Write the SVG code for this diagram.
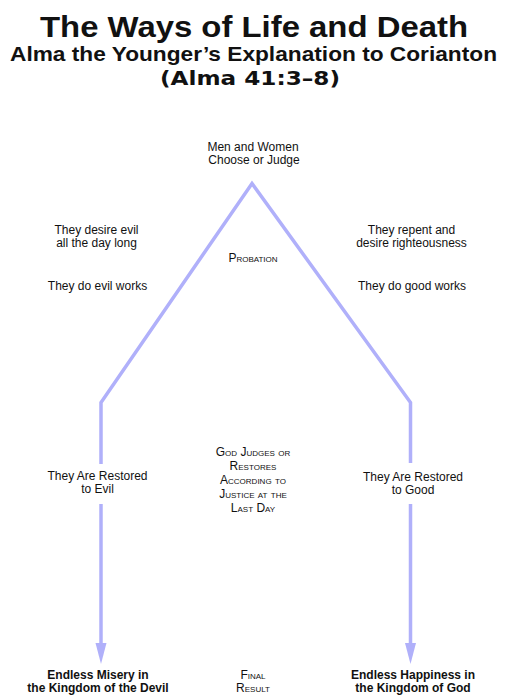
<svg xmlns="http://www.w3.org/2000/svg" width="522" height="700" viewBox="0 0 522 700">
<style>
  text { font-family: "Liberation Sans", Arial, sans-serif; fill: #111; text-anchor: middle; }
  .t { font-size: 12px; }
  .b { font-size: 12px; font-weight: bold; }
  .sc { font-size: 12px; font-variant: small-caps; }
  .h1 { font-size: 30px; font-weight: bold; }
  .h2 { font-size: 21px; font-weight: bold; }
  .h3 { font-family: "DejaVu Sans", "Liberation Sans", sans-serif; font-size: 20px; font-weight: bold; }
  .ln { fill: none; stroke: #b0b0fa; stroke-width: 3.5; stroke-linejoin: miter; }
  .ah { fill: #b0b0fa; }
</style>
<rect width="522" height="700" fill="#fff"/>
<g id="title">
  <text class="h1" x="254" y="36.5" textLength="428" lengthAdjust="spacingAndGlyphs">The Ways of Life and Death</text>
  <text class="h2" x="253.5" y="61" textLength="487" lengthAdjust="spacingAndGlyphs">Alma the Younger’s Explanation to Corianton</text>
  <text class="h3" x="250" y="85" textLength="180" lengthAdjust="spacingAndGlyphs">(Alma 41:3–8)</text>
</g>
<g id="connectors">
  <polyline class="ln" points="101,464 101,402.5 252,183.5 410.5,402.5 410.5,463"/>
  <line class="ln" x1="101" y1="504" x2="101" y2="646"/>
  <line class="ln" x1="410.5" y1="504" x2="410.5" y2="646"/>
  <polygon class="ah" points="95.5,643 106.5,643 101,664"/>
  <polygon class="ah" points="405,643 416,643 410.5,664"/>
</g>
<g id="node-choose">
  <text class="t" x="253" y="151">Men and Women</text>
  <text class="t" x="254" y="164">Choose or Judge</text>
</g>
<g id="node-probation">
  <text class="sc" x="253" y="262">Probation</text>
</g>
<g id="node-desire-evil">
  <text class="t" x="96.5" y="234">They desire evil</text>
  <text class="t" x="96.5" y="247">all the day long</text>
</g>
<g id="node-evil-works">
  <text class="t" x="97.5" y="290">They do evil works</text>
</g>
<g id="node-repent">
  <text class="t" x="411.5" y="234">They repent and</text>
  <text class="t" x="411.5" y="247">desire righteousness</text>
</g>
<g id="node-good-works">
  <text class="t" x="412" y="290">They do good works</text>
</g>
<g id="node-restored-evil">
  <text class="t" x="97.5" y="480">They Are Restored</text>
  <text class="t" x="97.5" y="493">to Evil</text>
</g>
<g id="node-restored-good">
  <text class="t" x="413" y="481">They Are Restored</text>
  <text class="t" x="413" y="494">to Good</text>
</g>
<g id="node-god-judges">
  <text class="sc" x="253" y="456">God Judges or</text>
  <text class="sc" x="253" y="470">Restores</text>
  <text class="sc" x="253" y="484">According to</text>
  <text class="sc" x="253" y="498">Justice at the</text>
  <text class="sc" x="253" y="512">Last Day</text>
</g>
<g id="node-misery">
  <text class="b" x="98" y="679">Endless Misery in</text>
  <text class="b" x="98" y="692">the Kingdom of the Devil</text>
</g>
<g id="node-final">
  <text class="sc" x="253" y="679">Final</text>
  <text class="sc" x="253" y="692">Result</text>
</g>
<g id="node-happiness">
  <text class="b" x="413" y="679">Endless Happiness in</text>
  <text class="b" x="413" y="692">the Kingdom of God</text>
</g>
</svg>
